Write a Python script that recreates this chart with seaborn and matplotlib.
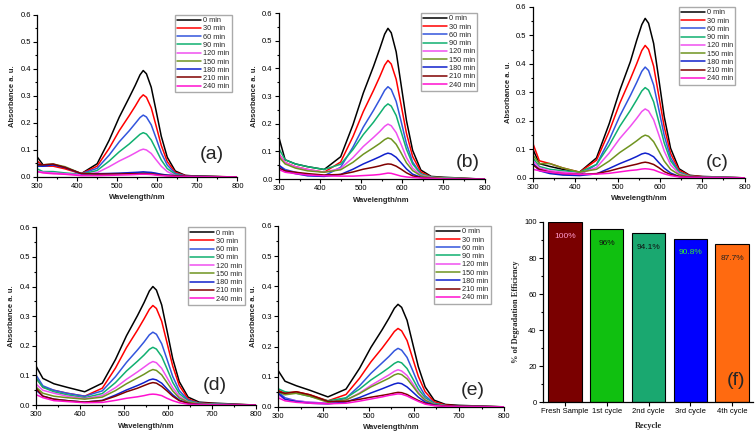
import numpy as np
import pandas as pd
import matplotlib.pyplot as plt
import seaborn as sns
from matplotlib.ticker import AutoMinorLocator, MultipleLocator, FormatStrFormatter

# UV-vis spectra (absorbance at these wavelengths)
wavelength = [300, 315, 340, 370, 410, 450, 480, 505, 530, 545, 557, 565, 573, 585, 597,
              610, 625, 645, 670, 700, 800]
times = ['0 min', '30 min', '60 min', '90 min', '120 min', '150 min', '180 min', '210 min', '240 min']
line_colors = ['#000000', '#ff0000', '#3355dd', '#10b070', '#f050f0',
               '#6f9420', '#1020cc', '#800000', '#ff10d0']

spectra_a = [
    [.075, .045, .045, .035, .012, .049, .136, .221, .294, .339, .378, .394, .382, .332, .246, .151, .073, .022, .006, .003, 0],
    [.060, .040, .040, .030, .012, .040, .106, .171, .227, .262, .292, .304, .295, .256, .190, .117, .057, .017, .005, .003, 0],
    [.050, .040, .045, .035, .012, .032, .081, .130, .171, .198, .220, .229, .222, .193, .144, .089, .044, .013, .004, .002, 0],
    [.030, .020, .020, .015, .010, .024, .059, .093, .122, .142, .158, .164, .159, .137, .102, .063, .031, .010, .003, .002, 0],
    [.020, .018, .015, .012, .008, .016, .038, .059, .077, .089, .099, .103, .100, .087, .064, .040, .020, .006, .002, .001, 0],
    [.045, .045, .048, .038, .013, .012, .012, .013, .014, .015, .016, .016, .016, .014, .012, .009, .007, .005, .003, .002, 0],
    [.040, .040, .045, .035, .012, .012, .013, .014, .016, .017, .018, .019, .018, .017, .014, .010, .007, .005, .003, .002, 0],
    [.045, .045, .048, .035, .013, .011, .011, .011, .012, .012, .012, .012, .012, .011, .009, .007, .005, .004, .003, .002, 0],
    [.020, .015, .012, .010, .005, .005, .006, .007, .008, .009, .010, .010, .010, .009, .007, .005, .004, .002, .002, .001, 0],
]
spectra_b = [
    [.150, .070, .055, .045, .035, .081, .197, .311, .408, .471, .524, .545, .529, .460, .341, .212, .104, .033, .010, .007, 0],
    [.090, .060, .045, .035, .025, .062, .154, .244, .321, .370, .412, .429, .416, .361, .268, .166, .082, .026, .008, .005, 0],
    [.050, .035, .025, .015, .012, .043, .116, .188, .249, .288, .321, .334, .324, .281, .209, .128, .062, .019, .005, .003, 0],
    [.110, .070, .055, .045, .035, .054, .107, .161, .206, .237, .262, .272, .264, .230, .172, .108, .055, .019, .008, .005, 0],
    [.090, .060, .045, .035, .025, .039, .078, .118, .151, .172, .191, .199, .193, .168, .126, .078, .040, .015, .006, .003, 0],
    [.080, .055, .040, .030, .025, .034, .061, .090, .114, .129, .143, .149, .145, .126, .095, .059, .031, .012, .005, .003, 0],
    [.050, .030, .020, .012, .010, .017, .036, .055, .071, .081, .090, .094, .091, .079, .059, .037, .018, .007, .002, .001, 0],
    [.040, .030, .025, .020, .015, .017, .026, .036, .043, .048, .053, .055, .054, .047, .036, .023, .012, .006, .003, .001, 0],
    [.035, .025, .020, .015, .012, .011, .011, .013, .015, .017, .020, .022, .021, .016, .011, .008, .006, .004, .003, .001, 0],
]
spectra_c = [
    [.100, .050, .040, .030, .020, .070, .190, .307, .408, .483, .538, .560, .543, .472, .349, .215, .104, .032, .009, .005, 0],
    [.120, .060, .050, .035, .020, .062, .163, .262, .347, .401, .447, .465, .451, .392, .290, .179, .086, .027, .008, .004, 0],
    [.050, .030, .020, .012, .010, .047, .133, .217, .289, .335, .374, .389, .377, .326, .242, .149, .071, .021, .005, .003, 0],
    [.070, .040, .030, .025, .020, .047, .114, .181, .237, .274, .305, .317, .308, .267, .198, .123, .060, .020, .006, .003, 0],
    [.060, .035, .025, .020, .015, .036, .087, .138, .181, .209, .233, .242, .235, .204, .152, .094, .046, .015, .004, .002, 0],
    [.080, .050, .050, .035, .020, .030, .059, .089, .114, .130, .144, .150, .146, .127, .095, .059, .030, .011, .004, .002, 0],
    [.050, .025, .015, .010, .008, .014, .033, .050, .065, .075, .084, .087, .084, .074, .054, .034, .017, .005, .002, .001, 0],
    [.045, .030, .020, .015, .012, .015, .024, .034, .043, .048, .053, .055, .053, .047, .036, .022, .012, .005, .003, .001, 0],
    [.030, .025, .020, .015, .012, .013, .016, .021, .026, .028, .031, .032, .031, .028, .021, .014, .008, .003, .002, .001, 0],
]
spectra_d = [
    [.130, .090, .072, .060, .045, .074, .154, .234, .302, .346, .385, .400, .388, .338, .252, .157, .079, .027, .010, .007, 0],
    [.090, .060, .050, .040, .030, .057, .125, .194, .253, .291, .323, .336, .326, .283, .211, .132, .066, .021, .007, .005, 0],
    [.100, .065, .050, .040, .030, .048, .096, .144, .186, .213, .237, .246, .239, .207, .155, .097, .049, .017, .006, .004, 0],
    [.090, .060, .045, .035, .025, .039, .076, .115, .148, .169, .188, .195, .189, .164, .123, .077, .039, .014, .006, .003, 0],
    [.070, .050, .040, .030, .022, .032, .059, .087, .112, .128, .141, .147, .143, .124, .093, .059, .030, .011, .004, .002, 0],
    [.060, .040, .030, .025, .020, .027, .049, .072, .092, .104, .115, .120, .117, .102, .076, .048, .024, .010, .004, .002, 0],
    [.050, .030, .020, .015, .010, .016, .034, .051, .066, .076, .085, .088, .085, .074, .055, .035, .017, .006, .002, .001, 0],
    [.055, .030, .020, .015, .010, .015, .030, .045, .057, .066, .073, .076, .074, .063, .048, .030, .015, .006, .002, .001, 0],
    [.035, .025, .015, .012, .008, .009, .016, .023, .028, .032, .036, .037, .036, .032, .023, .015, .008, .003, .002, .001, 0],
]
spectra_e = [
    [.120, .085, .070, .055, .033, .059, .128, .197, .256, .294, .327, .340, .330, .287, .213, .133, .066, .022, .008, .005, 0],
    [.055, .045, .050, .040, .020, .041, .095, .149, .195, .225, .250, .260, .252, .220, .163, .101, .050, .017, .006, .003, 0],
    [.050, .030, .020, .015, .012, .029, .070, .111, .146, .167, .186, .194, .188, .164, .122, .075, .037, .012, .004, .002, 0],
    [.060, .050, .045, .035, .020, .030, .059, .089, .114, .130, .144, .150, .146, .127, .095, .059, .030, .011, .004, .002, 0],
    [.040, .025, .020, .015, .012, .022, .046, .071, .093, .106, .118, .123, .119, .104, .078, .048, .024, .008, .003, .001, 0],
    [.050, .040, .045, .035, .015, .023, .044, .066, .084, .095, .106, .110, .107, .093, .070, .044, .022, .008, .003, .001, 0],
    [.045, .025, .018, .012, .010, .016, .031, .046, .060, .069, .076, .079, .077, .066, .050, .032, .016, .006, .002, .001, 0],
    [.050, .045, .050, .040, .018, .018, .025, .032, .038, .042, .046, .048, .047, .041, .031, .021, .012, .005, .003, .002, 0],
    [.030, .020, .015, .012, .010, .012, .019, .026, .033, .038, .041, .043, .042, .036, .027, .018, .009, .004, .002, .001, 0],
]

recycle = ['Fresh Sample', '1st cycle', '2nd cycle', '3rd cycle', '4th cycle']
efficiency = [100, 96, 94.1, 90.8, 87.7]
eff_labels = ['100%', '96%', '94.1%', '90.8%', '87.7%']
bar_colors = ['#7a0000', '#10c010', '#1aa870', '#0000ff', '#ff6a10']
text_colors = ['#ff99cc', '#111111', '#111111', '#33ee33', '#222222']

sns.set_theme(style="white")
plt.rcParams['font.family'] = ['Liberation Sans', 'DejaVu Sans']

fig = plt.figure(figsize=(7.56, 4.37), dpi=100)


def style_axes(ax):
    sns.despine(ax=ax)
    for side in ['left', 'bottom']:
        ax.spines[side].set_color('black')
        ax.spines[side].set_linewidth(0.9)
    ax.tick_params(which='both', direction='out', left=True, bottom=True,
                   colors='black', labelsize=5.5, width=0.8, pad=1.5)
    ax.tick_params(which='major', length=3)
    ax.tick_params(which='minor', length=1.5)


def spectra_panel(rect, spectra, tag, tag_xy):
    ax = fig.add_axes(rect)
    df = pd.DataFrame({
        'Wavelength': np.tile(wavelength, len(times)),
        'Absorbance': np.concatenate(spectra),
        'Time': np.repeat(times, len(wavelength)),
    })
    sns.lineplot(data=df, x='Wavelength', y='Absorbance', hue='Time', hue_order=times,
                 palette=line_colors, linewidth=1.1, ax=ax)
    ax.set_xlim(300, 800)
    ax.set_ylim(0, 0.6)
    ax.xaxis.set_major_locator(MultipleLocator(100))
    ax.xaxis.set_minor_locator(AutoMinorLocator(2))
    ax.yaxis.set_major_locator(MultipleLocator(0.1))
    ax.yaxis.set_minor_locator(AutoMinorLocator(2))
    ax.yaxis.set_major_formatter(FormatStrFormatter('%.1f'))
    style_axes(ax)
    ax.set_xlabel('Wavelength/nm', fontsize=5.5, fontweight='bold', labelpad=3)
    ax.set_ylabel('Absorbance a. u.', fontsize=5.5, fontweight='bold', labelpad=3)
    handles, labels = ax.get_legend_handles_labels()
    ax.legend(handles, labels, loc='upper left', bbox_to_anchor=(0.69, 1.0), fontsize=5.3,
              frameon=True, fancybox=False, edgecolor='#aaaaaa', framealpha=1,
              handlelength=3.2, handletextpad=0.3, labelspacing=0.15,
              borderpad=0.3, borderaxespad=0)
    ax.text(tag_xy[0], tag_xy[1], tag, transform=ax.transAxes, fontsize=14,
            ha='center', va='center')
    return ax


spectra_panel([0.049, 0.595, 0.265, 0.371], spectra_a, '(a)', (0.87, 0.14))
spectra_panel([0.369, 0.590, 0.272, 0.380], spectra_b, '(b)', (0.92, 0.10))
spectra_panel([0.705, 0.593, 0.280, 0.391], spectra_c, '(c)', (0.87, 0.09))
spectra_panel([0.048, 0.073, 0.291, 0.407], spectra_d, '(d)', (0.81, 0.11))
spectra_panel([0.368, 0.069, 0.299, 0.414], spectra_e, '(e)', (0.86, 0.09))

# (f) recycling efficiency
ax = fig.add_axes([0.718, 0.080, 0.278, 0.412])
sns.barplot(x=recycle, y=efficiency, hue=recycle, palette=bar_colors, legend=False,
            saturation=1, edgecolor='black', linewidth=0.8, width=0.8, ax=ax)
for i, (v, lab) in enumerate(zip(efficiency, eff_labels)):
    ax.text(i, v - 8, lab, ha='center', va='center', fontsize=6, color=text_colors[i])
ax.set_xlim(-0.53, 4.5)
ax.set_ylim(0, 100)
ax.yaxis.set_major_locator(MultipleLocator(20))
ax.yaxis.set_minor_locator(AutoMinorLocator(2))
style_axes(ax)
ax.tick_params(axis='x', which='minor', bottom=False)
ax.set_xlabel('Recycle', fontsize=6, fontweight='bold', family='Liberation Serif', labelpad=5)
ax.set_ylabel('% of Degradation Efficiency', fontsize=6, fontweight='bold',
              family='Liberation Serif', labelpad=3)
ax.text(0.92, 0.12, '(f)', transform=ax.transAxes, fontsize=14, ha='center', va='center')

plt.savefig('out.png', dpi=100)
plt.close()
